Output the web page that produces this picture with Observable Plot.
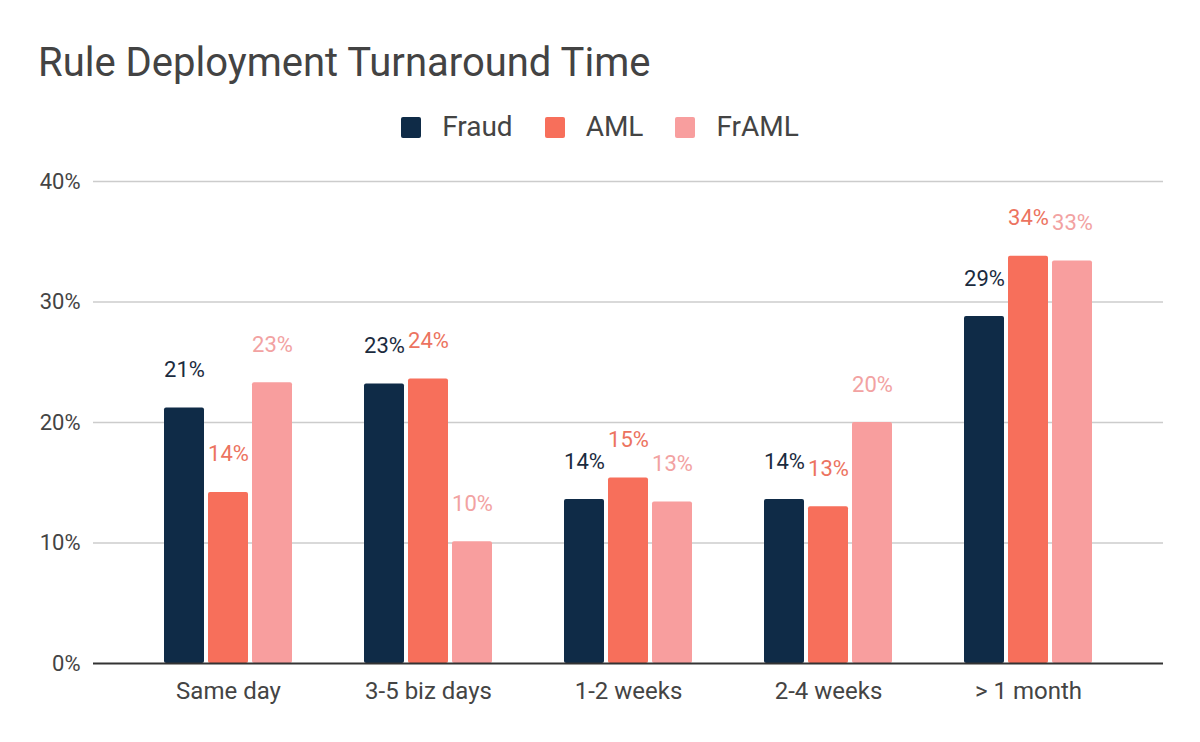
<!DOCTYPE html>
<html>
<head>
<meta charset="utf-8">
<script src="https://cdn.jsdelivr.net/npm/d3@7"></script>
<script src="https://cdn.jsdelivr.net/npm/@observablehq/plot@0.6"></script>
<style>
  html, body { margin: 0; padding: 0; background: #fff; }
  body { width: 1200px; height: 742px; overflow: hidden; font-family: Roboto, sans-serif; }
  #header { position: relative; height: 150px; }
  #title { position: absolute; left: 38px; top: 43px; font-size: 40px; line-height: 40px; color: #434343; white-space: nowrap; }
  #legend { position: absolute; left: 0; width: 1200px; top: 113px; height: 28px; display: flex; justify-content: center; align-items: center; font-size: 28px; line-height: 28px; color: #444; }
  .item { display: flex; align-items: center; margin: 0 16px; }
  .sw { width: 20px; height: 21px; border-radius: 2px; margin-right: 21px; }
</style>
</head>
<body>
<div id="header">
  <div id="title">Rule Deployment Turnaround Time</div>
  <div id="legend"></div>
</div>
<div id="chart"></div>
<script>
const categories = ["Same day", "3-5 biz days", "1-2 weeks", "2-4 weeks", "> 1 month"];
const seriesNames = ["Fraud", "AML", "FrAML"];
const fraud = [0.212, 0.232, 0.136, 0.136, 0.288];
const aml   = [0.142, 0.236, 0.154, 0.130, 0.338];
const framl = [0.233, 0.101, 0.134, 0.200, 0.334];
const barColors   = ["#0f2b47", "#f76f5b", "#f89e9e"];
const labelColors = ["#1b2b3e", "#ec7360", "#f2a2a2"];
const yTicks = [0, 0.1, 0.2, 0.3, 0.4];

const seriesValues = [fraud, aml, framl];
const rows = [];
seriesNames.forEach((s, si) => {
  categories.forEach((c, ci) => rows.push({category: c, series: s, value: seriesValues[si][ci]}));
});

// legend
const legend = document.getElementById("legend");
seriesNames.forEach((s, i) => {
  const it = document.createElement("div");
  it.className = "item";
  const sw = document.createElement("div");
  sw.className = "sw";
  sw.style.background = barColors[i];
  const tx = document.createElement("span");
  tx.textContent = s;
  it.appendChild(sw); it.appendChild(tx);
  legend.appendChild(it);
});

const offsets = [-44, 0, 44];
const marks = [
  Plot.ruleY(yTicks.filter(d => d > 0), {stroke: "#cccccc", strokeWidth: 1.6})
];
seriesNames.forEach((s, i) => {
  const data = rows.filter(r => r.series === s);
  marks.push(Plot.barY(data, {x: "category", y: "value", fill: barColors[i], dx: offsets[i], rx: 2}));
});
seriesNames.forEach((s, i) => {
  const data = rows.filter(r => r.series === s);
  marks.push(Plot.text(data, {x: "category", y: "value", text: d => d3.format(".0%")(d.value), fill: labelColors[i], dx: offsets[i], dy: -38, fontSize: 22}));
});
marks.push(Plot.ruleY([0], {stroke: "#333333", strokeWidth: 2}));
marks.push(Plot.axisX({tickSize: 0, tickPadding: 18, fontSize: 24, label: null}));
marks.push(Plot.axisY({ticks: yTicks, tickFormat: d3.format(".0%"), tickSize: 0, tickPadding: 13, fontSize: 22, label: null}));

const chart = Plot.plot({
  width: 1200,
  height: 592,
  marginTop: 31,
  marginBottom: 79,
  marginLeft: 93,
  marginRight: 37,
  style: {fontFamily: "Roboto, sans-serif", fontSize: "22px", color: "#444", background: "#fff"},
  x: {domain: categories, paddingInner: 0.8, paddingOuter: 0.575},
  y: {domain: [0, 0.4]},
  marks
});
document.getElementById("chart").appendChild(chart);
</script>
</body>
</html>
